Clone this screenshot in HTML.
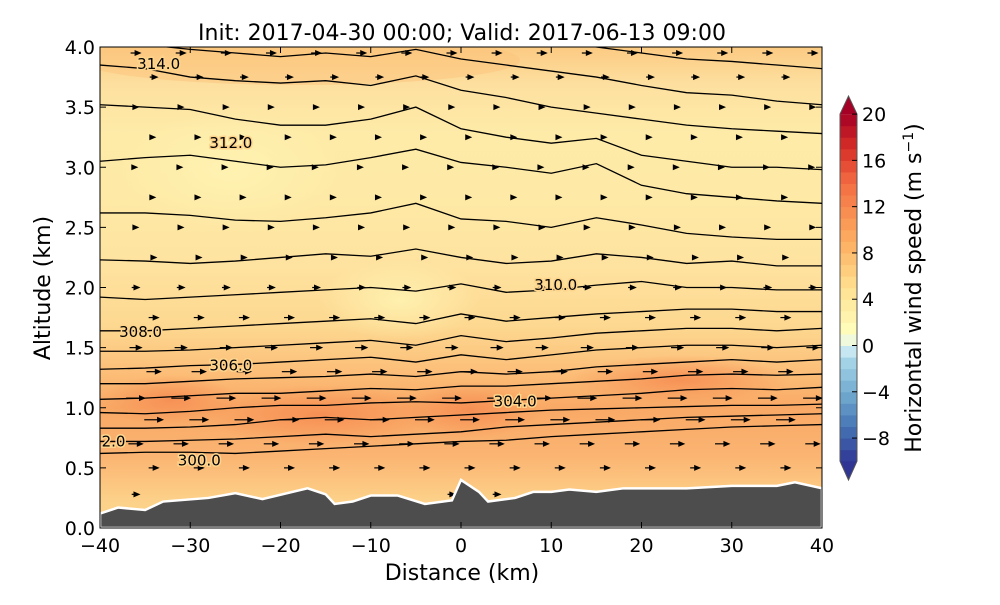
<!DOCTYPE html>
<html><head><meta charset="utf-8"><style>
body{margin:0;background:#fff;}
svg text{font-family:"DejaVu Sans","Liberation Sans",sans-serif;}
</style></head><body>
<svg id="chart" width="1000" height="600" xmlns="http://www.w3.org/2000/svg">
<defs>
<linearGradient id="bg" x1="0" y1="1" x2="0" y2="0">
<stop offset="0" stop-color="#fdd68d"/>
<stop offset="0.06" stop-color="#fcd088"/>
<stop offset="0.15" stop-color="#fbb472"/>
<stop offset="0.25" stop-color="#f9a965"/>
<stop offset="0.33" stop-color="#fcc07a"/>
<stop offset="0.42" stop-color="#fdd890"/>
<stop offset="0.55" stop-color="#fee3a0"/>
<stop offset="0.7" stop-color="#feeaa6"/>
<stop offset="0.82" stop-color="#feeba8"/>
<stop offset="0.92" stop-color="#fde0a0"/>
<stop offset="1" stop-color="#fcca82"/>
</linearGradient>
<radialGradient id="hot"><stop offset="0" stop-color="#f68d52" stop-opacity="0.9"/><stop offset="1" stop-color="#f68d52" stop-opacity="0"/></radialGradient>
<radialGradient id="pale"><stop offset="0" stop-color="#fff3b2" stop-opacity="0.9"/><stop offset="1" stop-color="#fff3b2" stop-opacity="0"/></radialGradient>
<clipPath id="plotclip"><rect x="100" y="47" width="722" height="481"/></clipPath>
</defs>
<g clip-path="url(#plotclip)">
<rect x="100" y="47" width="722" height="481" fill="url(#bg)"/>
<ellipse cx="320" cy="415" rx="120" ry="30" fill="url(#hot)"/>
<ellipse cx="470" cy="410" rx="70" ry="28" fill="url(#hot)"/>
<ellipse cx="680" cy="380" rx="110" ry="25" fill="url(#hot)"/>
<ellipse cx="170" cy="400" rx="70" ry="25" fill="url(#hot)"/>
<ellipse cx="230" cy="170" rx="110" ry="60" fill="url(#pale)"/>
<ellipse cx="400" cy="300" rx="80" ry="40" fill="url(#pale)"/>
<ellipse cx="300" cy="60" rx="220" ry="25" fill="#fcc47c" opacity="0.5"/>
<g id="contours"></g>
<g id="arrows"></g>
<path id="terrain" fill="#4d4d4d" stroke="#fff" stroke-width="2.5"/>
</g>
<g id="clabels"></g>
<rect x="100" y="47" width="722" height="481" fill="none" stroke="#000" stroke-width="1"/>
<g id="axes"></g>
<g id="cbar"></g>
<text x="462" y="40" font-size="22" text-anchor="middle">Init: 2017-04-30 00:00; Valid: 2017-06-13 09:00</text>
<text x="462" y="580" font-size="22" text-anchor="middle">Distance (km)</text>
<text transform="translate(50,288) rotate(-90)" font-size="22" text-anchor="middle">Altitude (km)</text>
<text transform="translate(921,288) rotate(-90)" font-size="22" text-anchor="middle">Horizontal wind speed (m s<tspan font-size="14" dy="-8">−1</tspan><tspan dy="8">)</tspan></text>
</svg>
<script>
const terrainX=[-40,-38,-35,-33,-28,-25,-22,-17,-15,-14,-12,-10,-7,-4,-1,0,2,3,6,8,10,12,15,18,25,30,35,37,40];
const terrainZ=[0.12,0.17,0.15,0.22,0.25,0.29,0.24,0.33,0.28,0.2,0.22,0.27,0.27,0.2,0.23,0.4,0.3,0.22,0.25,0.3,0.3,0.32,0.3,0.33,0.33,0.35,0.35,0.38,0.33];
const contourX=[-40,-35,-30,-25,-20,-15,-10,-5,0,5,10,15,20,25,30,35,40];
const contourZ=[
[.62,.63,.63,.62,.64,.66,.68,.70,.72,.73,.76,.78,.80,.82,.84,.85,.86],
[.72,.72,.73,.74,.76,.78,.76,.78,.80,.84,.86,.88,.90,.92,.93,.94,.95],
[.83,.83,.84,.86,.90,.92,.90,.92,.94,.96,.98,.99,1.0,1.01,1.02,1.02,1.03],
[.96,.95,.97,1.0,1.02,1.02,1.04,1.05,1.04,1.06,1.08,1.10,1.12,1.15,1.16,1.15,1.17],
[1.07,1.08,1.10,1.12,1.12,1.14,1.16,1.15,1.18,1.18,1.20,1.22,1.24,1.27,1.28,1.27,1.28],
[1.20,1.20,1.22,1.24,1.25,1.26,1.28,1.26,1.30,1.28,1.30,1.34,1.36,1.38,1.40,1.38,1.40],
[1.32,1.33,1.35,1.36,1.38,1.40,1.42,1.38,1.44,1.40,1.44,1.48,1.50,1.52,1.52,1.50,1.52],
[1.47,1.47,1.48,1.50,1.52,1.54,1.56,1.52,1.60,1.55,1.58,1.62,1.64,1.66,1.66,1.64,1.66],
[1.64,1.64,1.66,1.68,1.70,1.72,1.74,1.70,1.78,1.72,1.75,1.78,1.80,1.82,1.82,1.80,1.80],
[1.92,1.90,1.92,1.94,1.96,1.98,2.00,1.97,2.03,1.96,1.98,2.02,2.05,2.00,2.00,1.98,1.98],
[2.23,2.22,2.20,2.22,2.25,2.28,2.26,2.32,2.25,2.20,2.22,2.28,2.25,2.20,2.22,2.18,2.18],
[2.62,2.62,2.60,2.56,2.55,2.58,2.62,2.70,2.57,2.55,2.50,2.58,2.52,2.45,2.42,2.40,2.40],
[3.05,3.08,3.10,3.05,3.00,3.02,3.08,3.15,3.04,3.00,2.95,3.03,2.85,2.78,2.75,2.72,2.70],
[3.52,3.50,3.48,3.40,3.35,3.35,3.40,3.50,3.32,3.25,3.20,3.24,3.10,3.05,3.00,3.00,2.98],
[3.85,3.82,3.75,3.72,3.70,3.72,3.68,3.76,3.64,3.58,3.50,3.45,3.40,3.35,3.32,3.30,3.28],
[4.05,4.02,3.98,3.95,3.92,3.95,3.92,3.98,3.90,3.85,3.80,3.75,3.68,3.62,3.60,3.55,3.52],
[4.2,4.2,4.2,4.2,4.2,4.2,4.2,4.2,4.15,4.1,4.05,4.0,3.95,3.90,3.88,3.85,3.82]
];
const labelText=["314.0","312.0","310.0","308.0","306.0","304.0","300.0","2.0"];
const labelX=[-33.5,-25.5,10.5,-35.5,-25.5,6,-29,-38.5];
const labelZ=[3.86,3.2,2.02,1.63,1.35,1.05,0.56,0.72];
const arrowRowZ=[0.28,0.5,0.7,0.9,1.08,1.3,1.5,1.75,2.0,2.25,2.5,2.75,3.0,3.25,3.5,3.75,3.95];
const arrowRowU=[4,5,7,9,9,7,6,5,4,3,3,2,2,2,3,4,5];
const arrowColX=[-36,-31,-26,-21,-16,-11,-6,-1,4,9,14,19,24,29,34,39];
const cbTicks=[-8,-4,0,4,8,12,16,20];
const xTicks=[-40,-30,-20,-10,0,10,20,30,40];
const yTicks=[0,0.5,1,1.5,2,2.5,3,3.5,4];

const NS="http://www.w3.org/2000/svg";
const X=v=>100+(v+40)/80*722;
const Y=z=>528-z/4*481;
function mk(tag,attrs,parent){const e=document.createElementNS(NS,tag);for(const k in attrs)e.setAttribute(k,attrs[k]);parent.appendChild(e);return e;}
function interp(xs,zs,x){for(let i=0;i<xs.length-1;i++){if(x<=xs[i+1]){const t=(x-xs[i])/(xs[i+1]-xs[i]);return zs[i]+t*(zs[i+1]-zs[i]);}}return zs[zs.length-1];}

let d="M"+X(-40)+","+Y(0)+" ";
terrainX.forEach((x,i)=>{d+="L"+X(x)+","+Y(terrainZ[i])+" ";});
d+="L"+X(40)+","+Y(0)+" Z";
document.getElementById('terrain').setAttribute('d',d);

const cg=document.getElementById('contours');
contourZ.forEach((row,k)=>{
  let p="";
  row.forEach((z,i)=>{p+=(i?"L":"M")+X(contourX[i])+","+Y(z)+" ";});
  const e=mk('path',{d:p,fill:'none',stroke:'#000','stroke-width':1.3},cg);
  
  
});
const lg=document.getElementById('clabels');
labelText.forEach((t,i)=>{
  const e=mk('text',{x:X(labelX[i]),y:Y(labelZ[i])+5,'font-size':15,'text-anchor':'middle',stroke:'#fdd48c','stroke-width':3,'paint-order':'stroke'},lg);
  e.textContent=t;
  
  
});

const ag=document.getElementById('arrows');
arrowRowZ.forEach((z,r)=>{
  arrowColX.forEach((x0k,c)=>{
    const x=x0k+((r%2)?2:0);
    if(x>40)return;
    const tz=interp(terrainX,terrainZ,x);
    if(z<tz+0.05)return;
    const u=arrowRowU[r];
    const L=u*2.2;
    const x0=X(x)-L/2,y0=Y(z),x1=X(x)+L/2;
    const g=mk('g',{},ag);
    
    
    if(L>8) mk('line',{x1:x0,y1:y0,x2:x1-5,y2:y0,stroke:'#000','stroke-width':1.2},g);
    mk('path',{d:`M${x1},${y0} L${x1-7},${y0-3} L${x1-7},${y0+3} Z`,fill:'#000'},g);
  });
});

const ax=document.getElementById('axes');
xTicks.forEach(v=>{
  mk('line',{x1:X(v),y1:528,x2:X(v),y2:522,stroke:'#000'},ax);
  mk('line',{x1:X(v),y1:47,x2:X(v),y2:53,stroke:'#000'},ax);
  const t=mk('text',{x:X(v),y:552,'font-size':19,'text-anchor':'middle'},ax);
  t.textContent=(v<0?"−":"")+Math.abs(v);
  
  
});
yTicks.forEach(v=>{
  mk('line',{x1:100,y1:Y(v),x2:106,y2:Y(v),stroke:'#000'},ax);
  mk('line',{x1:822,y1:Y(v),x2:816,y2:Y(v),stroke:'#000'},ax);
  const t=mk('text',{x:95,y:Y(v)+7,'font-size':19,'text-anchor':'end'},ax);
  t.textContent=v.toFixed(1);
  
  
});

const stops=[[-10,[49,54,149]],[-7,[69,117,180]],[-4,[116,173,209]],[-1,[171,217,233]],[0,[224,243,248]],[1,[255,255,191]],[5,[254,224,144]],[9,[253,174,97]],[14,[244,109,67]],[17,[215,48,39]],[20,[165,0,38]]];
function col(v){for(let i=0;i<stops.length-1;i++){if(v<=stops[i+1][0]){const t=(v-stops[i][0])/(stops[i+1][0]-stops[i][0]);const c=stops[i][1].map((a,j)=>Math.round(a+t*(stops[i+1][1][j]-a)));return `rgb(${c})`;}}return 'rgb(165,0,38)';}
const cb=document.getElementById('cbar');
const cbY=v=>345.5-v*11.57;
for(let v=-10;v<20;v++){
  const r=mk('rect',{x:840,y:cbY(v+1),width:17,height:11.57+0.5,fill:col(v+0.5)},cb);
  
  
}
mk('path',{d:`M840,${cbY(20)} L848.5,96 L857,${cbY(20)} Z`,fill:'#a50026'},cb);
mk('path',{d:`M840,${cbY(-10)} L848.5,480 L857,${cbY(-10)} Z`,fill:'#313695'},cb);
mk('path',{d:`M840,${cbY(20)} L848.5,96 L857,${cbY(20)} L857,${cbY(-10)} L848.5,480 L840,${cbY(-10)} Z`,fill:'none',stroke:'#555','stroke-width':1},cb);
cbTicks.forEach(v=>{
  mk('line',{x1:852,y1:cbY(v),x2:857,y2:cbY(v),stroke:'#000'},cb);
  const t=mk('text',{x:862,y:cbY(v)+7,'font-size':19},cb);
  t.textContent=(v<0?"−":"")+Math.abs(v);
  
  
});
</script>
</body></html>
